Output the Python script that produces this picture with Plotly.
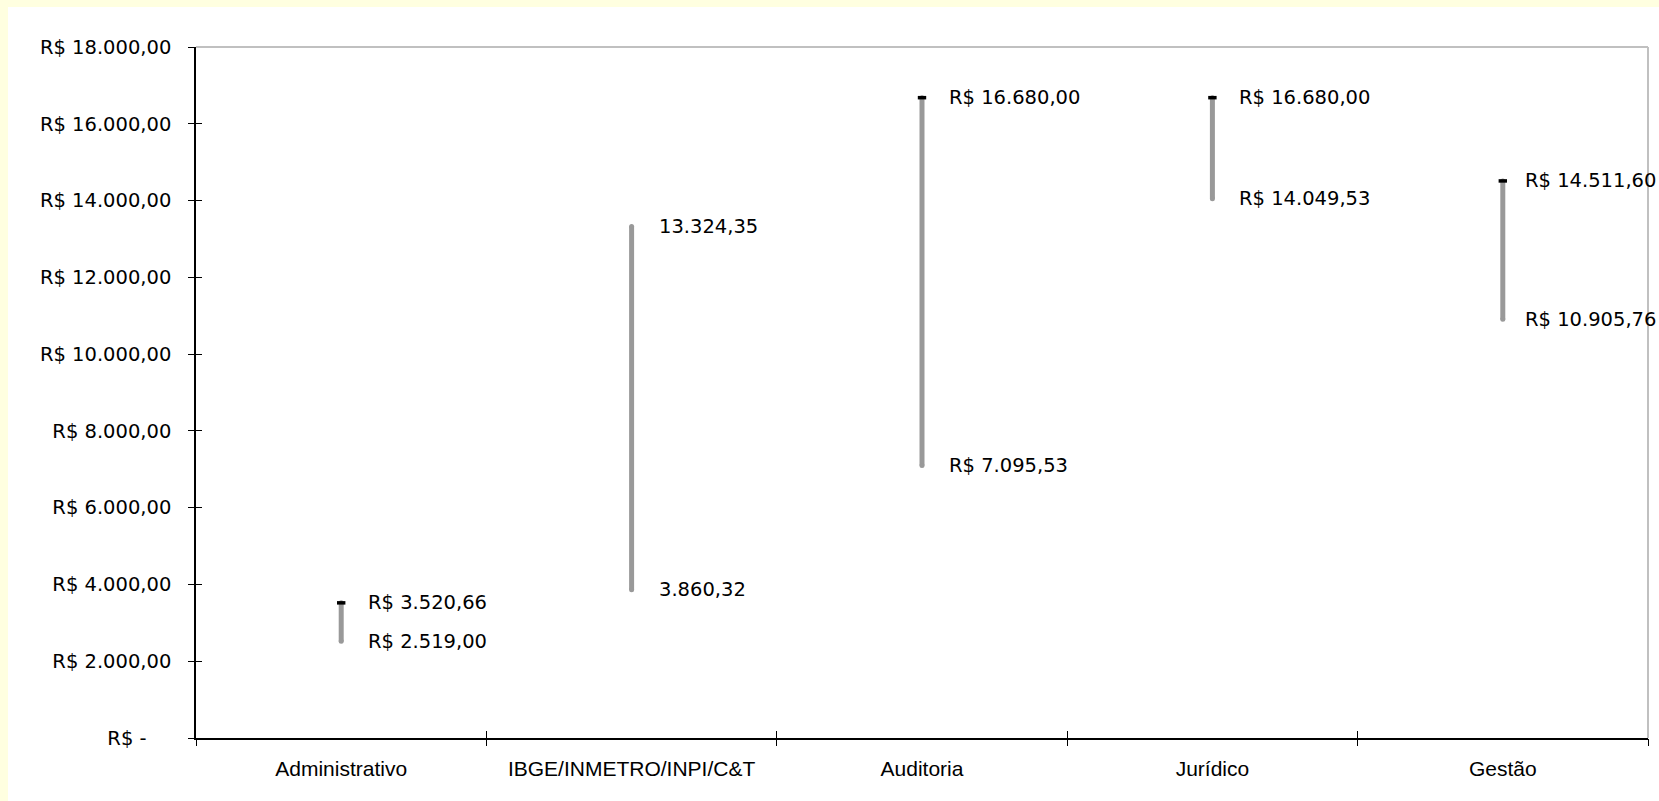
import plotly.graph_objects as go

# Faixas salariais por carreira (R$)
categorias = ['Administrativo', 'IBGE/INMETRO/INPI/C&T', 'Auditoria', 'Jurídico', 'Gestão']
salario_max = [3520.66, 13324.35, 16680.00, 16680.00, 14511.60]
salario_min = [2519.00, 3860.32, 7095.53, 14049.53, 10905.76]
rotulo_max = ['R$ 3.520,66', '13.324,35', 'R$ 16.680,00', 'R$ 16.680,00', 'R$ 14.511,60']
rotulo_min = ['R$ 2.519,00', '3.860,32', 'R$ 7.095,53', 'R$ 14.049,53', 'R$ 10.905,76']
marca_max = [True, False, True, True, True]

y_ticks = [0, 2000, 4000, 6000, 8000, 10000, 12000, 14000, 16000, 18000]
y_ticktext = ['R$ -' + '\u00a0' * 4, 'R$ 2.000,00', 'R$ 4.000,00', 'R$ 6.000,00', 'R$ 8.000,00',
              'R$ 10.000,00', 'R$ 12.000,00', 'R$ 14.000,00', 'R$ 16.000,00', 'R$ 18.000,00']

W, H = 1659, 801
ML, MR, MT, MB = 196, 11, 47, 63
PW, PH = W - ML - MR, H - MT - MB

GRAY = '#999999'
YFONT = dict(family='DejaVu Sans', size=19.5, color='#000000')
XFONT = dict(family='Liberation Sans', size=21, color='#000000')

pos = [i + 0.5 for i in range(len(categorias))]
# label offset from the bar (px); the last one is pulled in so it fits the page
label_shift = [25, 25, 25, 25, 20]

xs, ys = [], []
for x, lo, hi in zip(pos, salario_min, salario_max):
    xs += [x, x, None]
    ys += [lo, hi, None]

fig = go.Figure()

# high-low lines
fig.add_trace(go.Scatter(
    x=xs, y=ys, mode='lines+markers',
    line=dict(color=GRAY, width=5),
    marker=dict(color=GRAY, size=5, symbol='circle'),
    hoverinfo='skip', showlegend=False
))

# black dash at the top value
fig.add_trace(go.Scatter(
    x=[p for p, m in zip(pos, marca_max) if m],
    y=[v for v, m in zip(salario_max, marca_max) if m],
    mode='markers',
    marker=dict(symbol='line-ew', size=6, line=dict(color='#000000', width=3.5)),
    hoverinfo='skip', showlegend=False
))

# invisible traces so the overlay axes (inside ticks) get drawn
fig.add_trace(go.Scatter(x=[0], y=[0], xaxis='x2', yaxis='y2', mode='markers',
                         marker=dict(opacity=0), hoverinfo='skip', showlegend=False))
fig.add_trace(go.Scatter(x=[0], y=[0], xaxis='x3', yaxis='y', mode='markers',
                         marker=dict(opacity=0), hoverinfo='skip', showlegend=False))

for x, hi, lo, th, tl, sh in zip(pos, salario_max, salario_min, rotulo_max, rotulo_min, label_shift):
    for v, t in ((hi, th), (lo, tl)):
        fig.add_annotation(x=x, y=v, text=t, showarrow=False, xanchor='left',
                           yanchor='middle', xshift=sh, font=YFONT)

fig.update_layout(
    width=W, height=H,
    margin=dict(l=ML, r=MR, t=MT, b=MB),
    paper_bgcolor='#ffffff',
    plot_bgcolor='#ffffff',
    showlegend=False,
    xaxis=dict(
        range=[0, 5], tickvals=pos, ticktext=categorias, ticks='',
        showgrid=False, zeroline=False, showline=True, linecolor='#000000', linewidth=1.5,
        tickfont=XFONT, ticklabelstandoff=11, fixedrange=True
    ),
    xaxis2=dict(
        range=[0, 5], overlaying='x', side='bottom', anchor='y',
        tickvals=[0, 1, 2, 3, 4, 5], ticks='outside', ticklen=7, tickcolor='#000000', tickwidth=1,
        showticklabels=False, showgrid=False, zeroline=False, showline=False
    ),
    xaxis3=dict(
        range=[0, 5], overlaying='x', side='bottom', anchor='y',
        tickvals=[0, 1, 2, 3, 4, 5], ticks='inside', ticklen=7, tickcolor='#000000', tickwidth=1,
        showticklabels=False, showgrid=False, zeroline=False, showline=False
    ),
    yaxis=dict(
        range=[0, 18000], tickvals=y_ticks, ticktext=y_ticktext,
        ticks='outside', ticklen=6, tickcolor='#000000', tickwidth=1,
        showgrid=False, zeroline=False, showline=True, linecolor='#000000', linewidth=1.5,
        tickfont=YFONT, ticklabelstandoff=13, fixedrange=True
    ),
    yaxis2=dict(
        range=[0, 18000], overlaying='y', side='left', anchor='x',
        tickvals=y_ticks, ticks='inside', ticklen=6, tickcolor='#000000', tickwidth=1,
        showticklabels=False, showgrid=False, zeroline=False, showline=False
    ),
)

# top and right border of the plot area
fig.add_shape(type='line', xref='paper', yref='paper', x0=0, x1=1, y0=1, y1=1,
              line=dict(color='#C0C0C0', width=2))
fig.add_shape(type='line', xref='paper', yref='paper', x0=1, x1=1, y0=0, y1=1,
              line=dict(color='#C0C0C0', width=2))

# light yellow frame on the left and top edges
fig.add_shape(type='rect', xref='paper', yref='paper', layer='above',
              x0=-ML / PW - 0.01, x1=(8 - ML) / PW, y0=-MB / PH - 0.01, y1=1 + MT / PH + 0.01,
              line=dict(width=0), fillcolor='#FFFFE0')
fig.add_shape(type='rect', xref='paper', yref='paper', layer='above',
              x0=-ML / PW - 0.01, x1=1 + MR / PW + 0.01, y0=1 + (MT - 7) / PH, y1=1 + MT / PH + 0.01,
              line=dict(width=0), fillcolor='#FFFFE0')

fig.write_html('out.html', config={'displayModeBar': False},
               post_script="document.body.style.margin='0';document.body.style.overflow='hidden';")
